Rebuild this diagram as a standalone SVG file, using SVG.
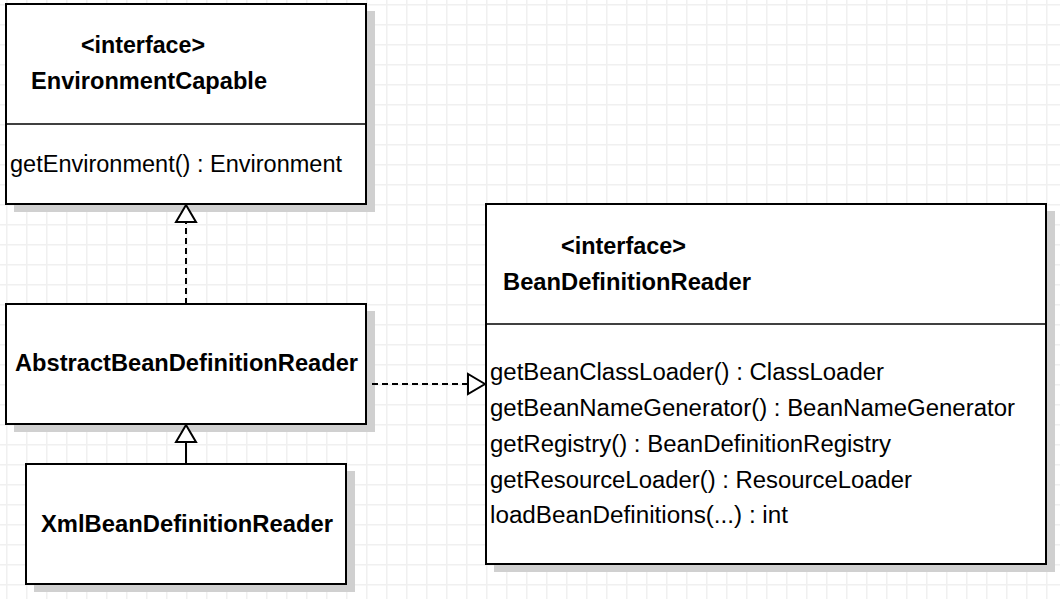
<svg xmlns="http://www.w3.org/2000/svg" width="1060" height="599" viewBox="0 0 1060 599">
  <defs>
    <pattern id="grid" x="6" y="4" width="20" height="20" patternUnits="userSpaceOnUse">
      <path d="M0 0.5 H20 M0.5 0 V20" fill="none" stroke="#f0f0f0" stroke-width="2"/>
    </pattern>
    <style>
      .shadow { fill: #d0d0d0; stroke: none; }
      .box { fill: #ffffff; stroke: #000000; stroke-width: 2; }
      .div { stroke: #000000; stroke-width: 1.5; fill: none; }
      .bold { font-family: "Liberation Sans", Arial, sans-serif; font-weight: bold; font-size: 23px; fill: #000; }
      .reg { font-family: "Liberation Sans", Arial, sans-serif; font-size: 23px; fill: #000; }
      .edge { fill: none; stroke: #000; stroke-width: 2; }
      .dash { stroke-dasharray: 6 4; }
      .head { fill: #fff; stroke: #000; stroke-width: 2; stroke-linejoin: miter; }
    </style>
  </defs>

  <rect x="0" y="0" width="1060" height="599" fill="#ffffff"/>
  <rect x="0" y="0" width="1060" height="599" fill="url(#grid)"/>

  <g id="EnvironmentCapable">
    <rect class="shadow" x="14" y="11" width="361" height="201"/>
    <rect class="box" x="6" y="4" width="360" height="200"/>
    <line class="div" x1="6" y1="124" x2="366" y2="124"/>
    <text class="bold" x="81" y="53" textLength="124" lengthAdjust="spacingAndGlyphs">&lt;interface&gt;</text>
    <text class="bold" x="31" y="89" textLength="236" lengthAdjust="spacingAndGlyphs">EnvironmentCapable</text>
    <text class="reg" x="10" y="172" textLength="332" lengthAdjust="spacingAndGlyphs">getEnvironment() : Environment</text>
  </g>

  <g id="AbstractBeanDefinitionReader">
    <rect class="shadow" x="14" y="311" width="361" height="121"/>
    <rect class="box" x="6" y="304" width="360" height="120"/>
    <text class="bold" x="15" y="371" textLength="343" lengthAdjust="spacingAndGlyphs">AbstractBeanDefinitionReader</text>
  </g>

  <g id="XmlBeanDefinitionReader">
    <rect class="shadow" x="34" y="471" width="321" height="121"/>
    <rect class="box" x="26" y="464" width="320" height="120"/>
    <text class="bold" x="41" y="532" textLength="292" lengthAdjust="spacingAndGlyphs">XmlBeanDefinitionReader</text>
  </g>

  <g id="BeanDefinitionReader">
    <rect class="shadow" x="494" y="211" width="561" height="361"/>
    <rect class="box" x="486" y="204" width="560" height="360"/>
    <line class="div" x1="486" y1="324" x2="1046" y2="324"/>
    <text class="bold" x="561" y="254" textLength="125" lengthAdjust="spacingAndGlyphs">&lt;interface&gt;</text>
    <text class="bold" x="503" y="290" textLength="248" lengthAdjust="spacingAndGlyphs">BeanDefinitionReader</text>
    <text class="reg" x="490" y="380" textLength="394" lengthAdjust="spacingAndGlyphs">getBeanClassLoader() : ClassLoader</text>
    <text class="reg" x="490" y="416" textLength="525" lengthAdjust="spacingAndGlyphs">getBeanNameGenerator() : BeanNameGenerator</text>
    <text class="reg" x="490" y="452" textLength="401" lengthAdjust="spacingAndGlyphs">getRegistry() : BeanDefinitionRegistry</text>
    <text class="reg" x="490" y="488" textLength="422" lengthAdjust="spacingAndGlyphs">getResourceLoader() : ResourceLoader</text>
    <text class="reg" x="490" y="523" textLength="298" lengthAdjust="spacingAndGlyphs">loadBeanDefinitions(...) : int</text>
  </g>

  <g id="connectors">
    <!-- AbstractBeanDefinitionReader realizes EnvironmentCapable -->
    <line class="edge dash" x1="186" y1="304" x2="186" y2="222"/>
    <polygon class="head" points="186,205 176,222 196,222"/>
    <!-- XmlBeanDefinitionReader extends AbstractBeanDefinitionReader -->
    <line class="edge" x1="186" y1="464" x2="186" y2="442"/>
    <polygon class="head" points="186,425 176,442 196,442"/>
    <!-- AbstractBeanDefinitionReader realizes BeanDefinitionReader -->
    <line class="edge dash" x1="372" y1="384" x2="468" y2="384"/>
    <polygon class="head" points="485,384 468,374 468,394"/>
  </g>
</svg>
